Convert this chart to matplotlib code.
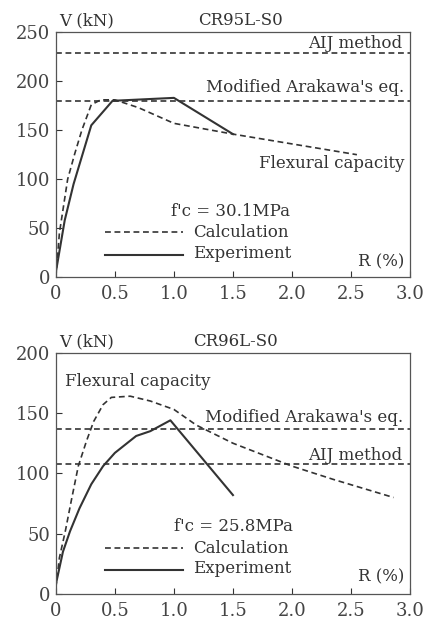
import matplotlib
matplotlib.use("Agg")
import matplotlib.pyplot as plt

plt.rcParams['font.family'] = ['DejaVu Serif']

# top panel: CR95L-S0
top_exp_r = [0, 0.075, 0.15, 0.3, 0.48, 1.0, 1.5]
top_exp_v = [5, 58, 95, 155, 180, 183, 146]
top_calc_r = [0, 0.03, 0.1, 0.16, 0.22, 0.3, 0.38, 0.5, 0.7, 1.0, 1.5, 2.55]
top_calc_v = [0, 45, 100, 126, 150, 176, 181, 181, 173, 157, 146, 125]
top_aij = 229
top_arakawa = 180

# bottom panel: CR96L-S0
bot_exp_r = [0, 0.06, 0.12, 0.2, 0.3, 0.4, 0.5, 0.68, 0.8, 0.97, 1.5]
bot_exp_v = [8, 35, 52, 71, 91, 106, 117, 131, 135, 144, 82]
bot_calc_r = [0, 0.03, 0.08, 0.13, 0.19, 0.26, 0.32, 0.4, 0.47, 0.63, 0.8,
              1.0, 1.19, 1.5, 2.0, 2.35, 2.86]
bot_calc_v = [5, 30, 52, 77, 106, 127, 143, 157, 163, 164, 160,
              153, 140, 125, 106, 95, 80]
bot_aij = 108
bot_arakawa = 137

x_ticks = [0, 0.5, 1.0, 1.5, 2.0, 2.5, 3.0]
x_labels = ['0', '0.5', '1.0', '1.5', '2.0', '2.5', '3.0']

col = '#333333'
fs = 12

fig = plt.figure(figsize=(4.33, 6.2), dpi=100)
ax1 = fig.add_axes([0.129, 0.553, 0.818, 0.395])
ax2 = fig.add_axes([0.129, 0.042, 0.818, 0.389])


def setup(ax, ymax, title, dx):
    ax.set_xlim(0, 3.0)
    ax.set_ylim(0, ymax)
    ax.set_xticks(x_ticks)
    ax.set_xticklabels(x_labels)
    ax.set_yticks(range(0, ymax + 1, 50))
    ax.tick_params(direction='in', length=4, width=0.8, colors=col,
                   labelsize=13, labelcolor='#444444')
    ax.tick_params(axis='x', pad=6)
    ax.tick_params(axis='y', pad=4)
    for s in ax.spines.values():
        s.set_color('#555555')
        s.set_linewidth(0.9)
    ax.text(0.03, ymax * 1.012, 'V (kN)', fontsize=fs, color=col, ha='left', va='bottom')
    ax.text(dx, ymax * 1.012, title, fontsize=fs, color=col, ha='center', va='bottom')


setup(ax1, 250, 'CR95L-S0', 1.56)
setup(ax2, 200, 'CR96L-S0', 1.52)

dash = dict(color=col, lw=1.2, ls=(0, (3.5, 2.2)))
solid = dict(color=col, lw=1.5)

# top
ax1.plot(top_calc_r, top_calc_v, **dash)
ax1.plot(top_exp_r, top_exp_v, **solid)
ax1.plot([0, 3.0], [top_aij, top_aij], **dash)
ax1.plot([0, 3.0], [top_arakawa, top_arakawa], **dash)
ax1.text(2.93, 239, 'AIJ method', fontsize=fs, color=col, ha='right', va='center')
ax1.text(2.95, 194, "Modified Arakawa's eq.", fontsize=fs, color=col, ha='right', va='center')
ax1.text(2.95, 116, 'Flexural capacity', fontsize=fs, color=col, ha='right', va='center')
ax1.text(1.48, 67, "f'c = 30.1MPa", fontsize=fs, color=col, ha='center', va='center')
ax1.plot([0.42, 1.08], [46, 46], **dash)
ax1.text(1.16, 46, 'Calculation', fontsize=fs, color=col, ha='left', va='center')
ax1.plot([0.42, 1.08], [23, 23], **solid)
ax1.text(1.16, 24, 'Experiment', fontsize=fs, color=col, ha='left', va='center')
ax1.text(2.95, 16, 'R (%)', fontsize=fs, color=col, ha='right', va='center')

# bottom
ax2.plot(bot_calc_r, bot_calc_v, **dash)
ax2.plot(bot_exp_r, bot_exp_v, **solid)
ax2.plot([0, 3.0], [bot_aij, bot_aij], **dash)
ax2.plot([0, 3.0], [bot_arakawa, bot_arakawa], **dash)
ax2.text(0.08, 176, 'Flexural capacity', fontsize=fs, color=col, ha='left', va='center')
ax2.text(2.94, 146.5, "Modified Arakawa's eq.", fontsize=fs, color=col, ha='right', va='center')
ax2.text(2.93, 115, 'AIJ method', fontsize=fs, color=col, ha='right', va='center')
ax2.text(1.5, 56, "f'c = 25.8MPa", fontsize=fs, color=col, ha='center', va='center')
ax2.plot([0.42, 1.08], [38, 38], **dash)
ax2.text(1.16, 38, 'Calculation', fontsize=fs, color=col, ha='left', va='center')
ax2.plot([0.42, 1.08], [20, 20], **solid)
ax2.text(1.16, 21, 'Experiment', fontsize=fs, color=col, ha='left', va='center')
ax2.text(2.95, 14.5, 'R (%)', fontsize=fs, color=col, ha='right', va='center')

fig.savefig('out.png', dpi=100)
